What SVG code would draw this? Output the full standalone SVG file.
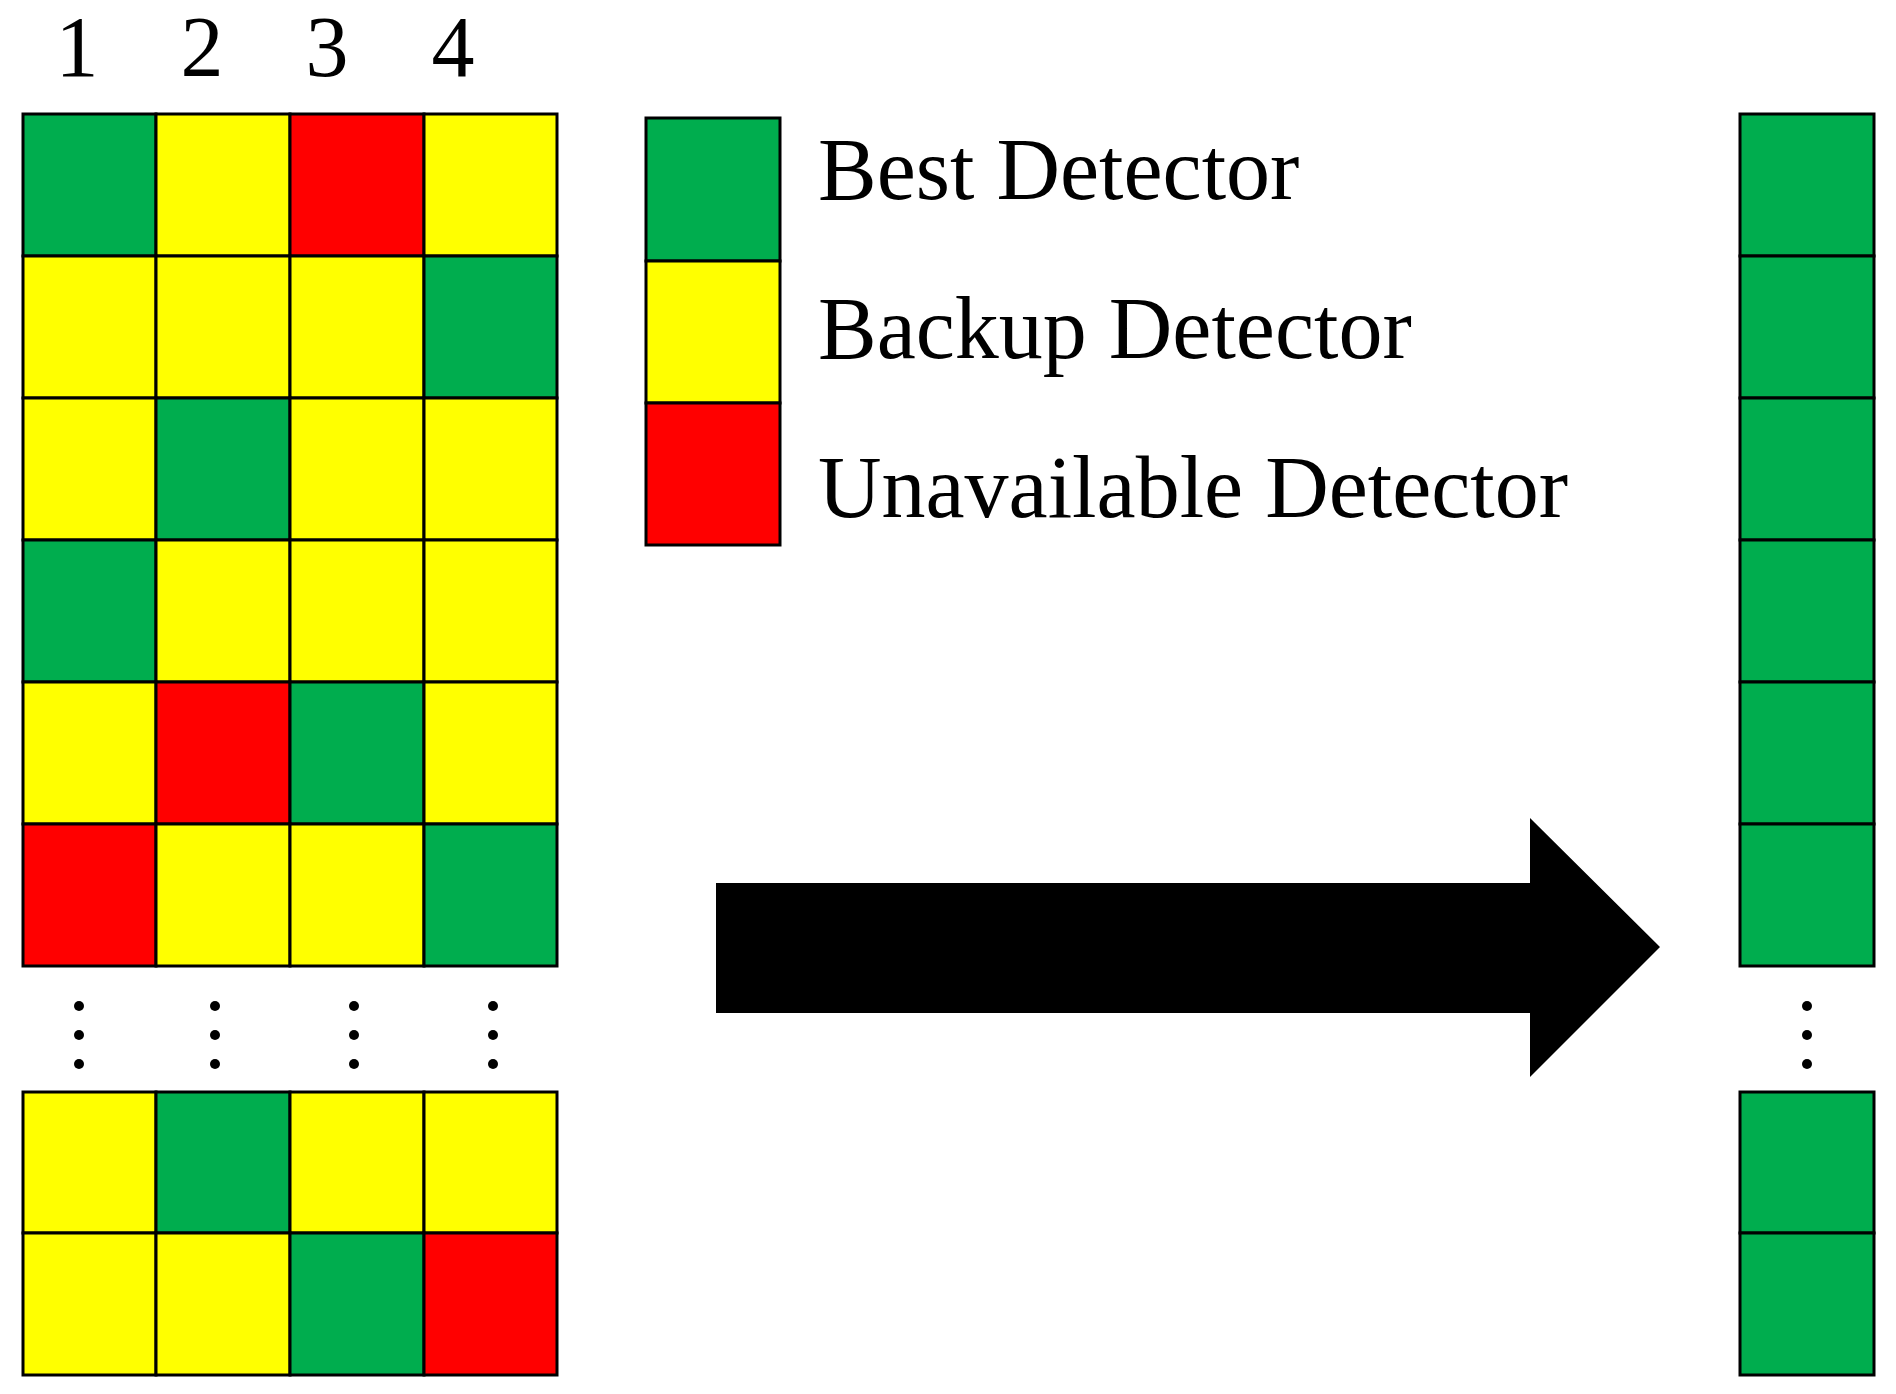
<svg xmlns="http://www.w3.org/2000/svg" width="1896" height="1394" viewBox="0 0 1896 1394">
<style>
.g{fill:#00AD4E;stroke:#000;stroke-width:3}
.y{fill:#FFFF00;stroke:#000;stroke-width:3}
.r{fill:#FF0000;stroke:#000;stroke-width:3}
.t{font-family:"Liberation Serif","Times New Roman",serif;fill:#000}
.d{fill:#000}
</style>
<rect width="1896" height="1394" fill="#fff"/>
<g id="column-labels">
<text class="t" x="77" y="76" font-size="86" text-anchor="middle">1</text>
<text class="t" x="202" y="76" font-size="86" text-anchor="middle">2</text>
<text class="t" x="327" y="76" font-size="86" text-anchor="middle">3</text>
<text class="t" x="453" y="76" font-size="86" text-anchor="middle">4</text>
</g>
<g id="matrix-top">
<rect class="g" x="23" y="114" width="133" height="142"/><rect class="y" x="156" y="114" width="134" height="142"/><rect class="r" x="290" y="114" width="134" height="142"/><rect class="y" x="424" y="114" width="133" height="142"/>
<rect class="y" x="23" y="256" width="133" height="142"/><rect class="y" x="156" y="256" width="134" height="142"/><rect class="y" x="290" y="256" width="134" height="142"/><rect class="g" x="424" y="256" width="133" height="142"/>
<rect class="y" x="23" y="398" width="133" height="142"/><rect class="g" x="156" y="398" width="134" height="142"/><rect class="y" x="290" y="398" width="134" height="142"/><rect class="y" x="424" y="398" width="133" height="142"/>
<rect class="g" x="23" y="540" width="133" height="142"/><rect class="y" x="156" y="540" width="134" height="142"/><rect class="y" x="290" y="540" width="134" height="142"/><rect class="y" x="424" y="540" width="133" height="142"/>
<rect class="y" x="23" y="682" width="133" height="142"/><rect class="r" x="156" y="682" width="134" height="142"/><rect class="g" x="290" y="682" width="134" height="142"/><rect class="y" x="424" y="682" width="133" height="142"/>
<rect class="r" x="23" y="824" width="133" height="142"/><rect class="y" x="156" y="824" width="134" height="142"/><rect class="y" x="290" y="824" width="134" height="142"/><rect class="g" x="424" y="824" width="133" height="142"/>
</g>
<g id="matrix-dots">
<circle class="d" cx="79" cy="1006" r="5"/><circle class="d" cx="79" cy="1035" r="5"/><circle class="d" cx="79" cy="1064" r="5"/>
<circle class="d" cx="215" cy="1006" r="5"/><circle class="d" cx="215" cy="1035" r="5"/><circle class="d" cx="215" cy="1064" r="5"/>
<circle class="d" cx="354" cy="1006" r="5"/><circle class="d" cx="354" cy="1035" r="5"/><circle class="d" cx="354" cy="1064" r="5"/>
<circle class="d" cx="493" cy="1006" r="5"/><circle class="d" cx="493" cy="1035" r="5"/><circle class="d" cx="493" cy="1064" r="5"/>
</g>
<g id="matrix-bottom">
<rect class="y" x="23" y="1092" width="133" height="141"/><rect class="g" x="156" y="1092" width="134" height="141"/><rect class="y" x="290" y="1092" width="134" height="141"/><rect class="y" x="424" y="1092" width="133" height="141"/>
<rect class="y" x="23" y="1233" width="133" height="142"/><rect class="y" x="156" y="1233" width="134" height="142"/><rect class="g" x="290" y="1233" width="134" height="142"/><rect class="r" x="424" y="1233" width="133" height="142"/>
</g>
<g id="legend">
<rect class="g" x="646" y="118" width="134" height="143"/>
<rect class="y" x="646" y="261" width="134" height="142"/>
<rect class="r" x="646" y="403" width="134" height="142"/>
<text class="t" x="818" y="199" font-size="88">Best Detector</text>
<text class="t" x="818" y="358" font-size="88">Backup Detector</text>
<text class="t" x="818" y="517" font-size="88">Unavailable Detector</text>
</g>
<g id="connectors">
<polygon points="716,883 1530,883 1530,818 1660,947 1530,1077 1530,1013 716,1013" fill="#000"/>
</g>
<g id="result-column">
<rect class="g" x="1740" y="114" width="134" height="142"/>
<rect class="g" x="1740" y="256" width="134" height="142"/>
<rect class="g" x="1740" y="398" width="134" height="142"/>
<rect class="g" x="1740" y="540" width="134" height="142"/>
<rect class="g" x="1740" y="682" width="134" height="142"/>
<rect class="g" x="1740" y="824" width="134" height="142"/>
<circle class="d" cx="1807" cy="1006" r="5"/><circle class="d" cx="1807" cy="1035" r="5"/><circle class="d" cx="1807" cy="1064" r="5"/>
<rect class="g" x="1740" y="1092" width="134" height="141"/>
<rect class="g" x="1740" y="1233" width="134" height="142"/>
</g>
</svg>
